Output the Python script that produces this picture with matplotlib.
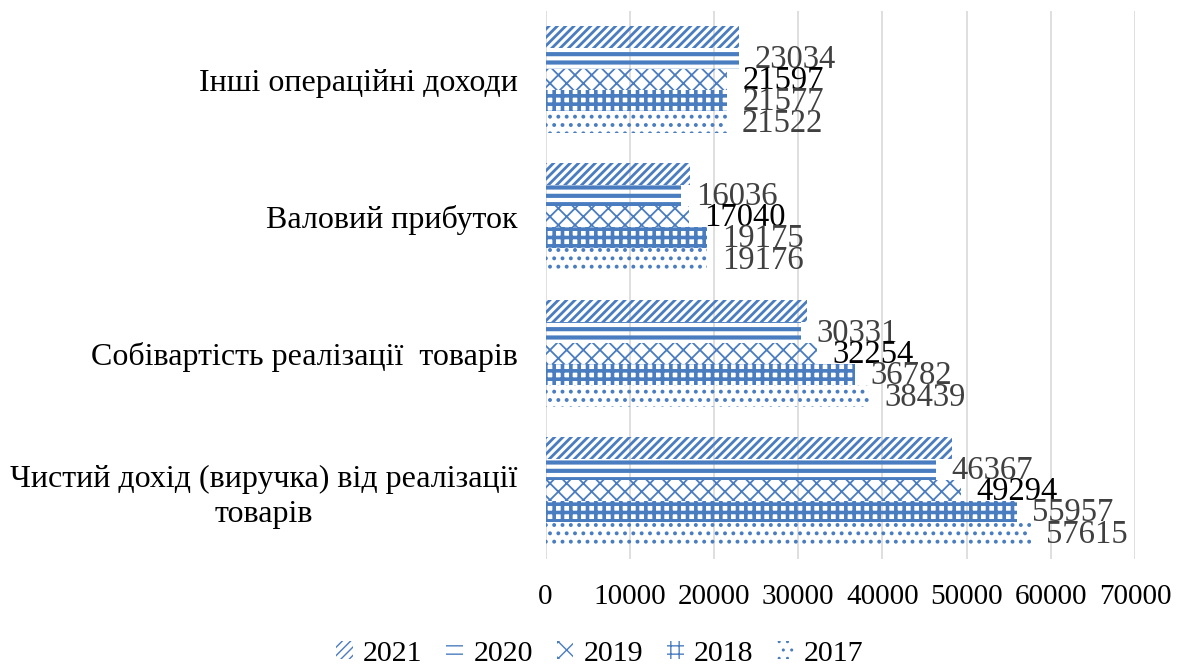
import numpy as np
import matplotlib
matplotlib.use('Agg')
import matplotlib.pyplot as plt
from matplotlib.patches import Patch

# Data (top category first)
categories = ['Інші операційні доходи',
              'Валовий прибуток',
              'Собівартість реалізації  товарів',
              'Чистий дохід (виручка) від реалізації\nтоварів']
years = ['2021', '2020', '2019', '2018', '2017']
values = {
    '2021': [23000, 17100, 31000, 48300],
    '2020': [23034, 16036, 30331, 46367],
    '2019': [21597, 17040, 32254, 49294],
    '2018': [21577, 19175, 36782, 55957],
    '2017': [21522, 19176, 38439, 57615],
}
# the 2021 bars carry no value label in the source
show_label = {'2021': False, '2020': True, '2019': True, '2018': True, '2017': True}

# Styles
blue = '#4a7dc0'
hatches = {'2021': '////', '2020': '--', '2019': 'xx', '2018': '++', '2017': '..'}
hatch_lw = {'2021': 2.0, '2020': 3.0, '2019': 1.3, '2018': 2.6, '2017': 1.6}
label_colors = {'2020': '#404040', '2019': '#000000', '2018': '#404040', '2017': '#404040'}

plt.rcParams['font.family'] = ['Liberation Serif', 'DejaVu Serif']

fig = plt.figure(figsize=(11.89, 6.66), dpi=100)
ax = fig.add_axes([545.5 / 1189, 1 - 559 / 666, (1135 - 545.5) / 1189, 548 / 666])

n_cat = len(categories)
centers = np.arange(n_cat)  # 0 at top after inverting
bar_h = 0.155
offsets = (np.arange(len(years)) - 2) * bar_h

for j, yr in enumerate(years):
    with plt.rc_context({'hatch.linewidth': hatch_lw[yr]}):
        ax.barh(centers + offsets[j], values[yr], height=bar_h,
                color='none', edgecolor=blue, linewidth=0,
                hatch=hatches[yr], zorder=2)
    if show_label[yr]:
        for i, v in enumerate(values[yr]):
            ax.annotate(str(v), xy=(v, centers[i] + offsets[j]), xytext=(11, -1),
                        textcoords='offset points', ha='left', va='center',
                        fontsize=23.5, color=label_colors[yr], zorder=3)

ax.set_ylim(n_cat - 0.5, -0.5)
ax.set_xlim(0, 70000)
ax.set_xticks(np.arange(0, 70001, 10000))
ax.set_xticklabels([str(t) for t in range(0, 70001, 10000)])
ax.set_yticks(centers)
ax.set_yticklabels(categories, multialignment='center', linespacing=1.25)
ax.tick_params(axis='x', length=0, pad=18, labelsize=21)
ax.tick_params(axis='y', length=0, pad=20, labelsize=23)

ax.grid(axis='x', color='#d9d9d9', linewidth=1.2, zorder=0)
ax.set_axisbelow(True)
for s in ax.spines.values():
    s.set_visible(False)

handles = []
for yr in years:
    with plt.rc_context({'hatch.linewidth': hatch_lw[yr]}):
        handles.append(Patch(facecolor='none', edgecolor=blue, linewidth=0,
                             hatch=hatches[yr], label=yr))
fig.legend(handles=handles, loc='center', bbox_to_anchor=(600 / 1189, 1 - 654 / 666),
           ncol=5, frameon=False, fontsize=21.5, handlelength=0.55, handleheight=0.55,
           handletextpad=0.35, columnspacing=0.8, borderpad=0.0)

fig.savefig('out.png', dpi=100)
